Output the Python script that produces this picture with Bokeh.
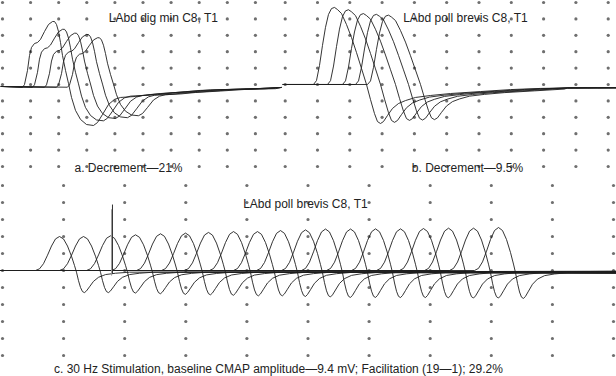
import numpy as np
from bokeh.plotting import figure
from bokeh.layouts import column, row
from bokeh.models import Label, Range1d
from bokeh.embed import file_html
from bokeh.resources import INLINE

# ---------------- texts ----------------
TL_TITLE = "LAbd dig min C8, T1"
TL_CAPTION = "a. Decrement\u201421%"
TR_TITLE = "LAbd poll brevis C8, T1"
TR_CAPTION = "b. Decrement\u20149.5%"
BT_TITLE = "LAbd poll brevis C8, T1"
BT_CAPTION = "c. 30 Hz Stimulation, baseline CMAP amplitude\u20149.4 mV; Facilitation (19\u20141); 29.2%"

# ---------------- panel a (grid divisions) ----------------
TL_DOT_COLS = [0, 1, 2, 3, 4, 5, 6, 7, 8, 9]
TL_DOT_ROWS = [-5, -4, -3, -2, -1, 0, 1, 2, 3, 4, 5]
TL_BASE = -0.12
# first response, relative to its peak (x) and baseline (y)
TL_TPL_X = [-1.103, -1.032, -0.925, -0.854, -0.783, -0.676, -0.569, -0.463, -0.320, -0.178,
            -0.036, 0.036, 0.107, 0.178, 0.249, 0.320, 0.427, 0.534, 0.641, 0.783,
            0.961, 1.174, 1.423, 1.566, 1.744, 1.957, 2.171, 2.384, 2.918, 3.452,
            4.342, 5.231, 6.299, 7.367]
TL_TPL_Y = [-0.06, 0.12, 0.98, 1.89, 2.38, 2.62, 2.68, 2.87, 3.35, 3.78,
            3.96, 3.96, 3.78, 3.35, 2.68, 1.89, 0.98, 0.18, -0.67, -1.46,
            -2.01, -2.32, -2.38, -2.20, -1.71, -1.10, -0.79, -0.67, -0.61, -0.49,
            -0.37, -0.24, -0.18, -0.12]
TL_PEAK_X = [1.815, 2.171, 2.598, 3.025, 3.416]
TL_AMP = [1.00, 0.88, 0.82, 0.80, 0.75]
TL_END_X = [9.93]
TL_END_Y = [-0.06]

# ---------------- panel b ----------------
TR_DOT_COLS = [-1, 0, 1, 2, 3, 4, 5, 6, 7, 8, 9]
TR_DOT_ROWS = [-5, -4, -3, -2, -1, 0, 1, 2, 3, 4, 5]
TR_TPL_X = [-0.619, -0.526, -0.433, -0.341, -0.248, -0.155, -0.062, 0.031, 0.124, 0.248,
            0.402, 0.557, 0.712, 0.867, 1.022, 1.146, 1.269, 1.362, 1.455, 1.548,
            1.672, 1.827, 2.012, 2.229, 2.539, 3.003, 3.622, 4.551, 5.480, 6.409]
TR_TPL_Y = [0.0, 0.24, 1.16, 2.38, 3.48, 4.27, 4.63, 4.70, 4.57, 4.33,
            3.66, 2.87, 1.95, 0.98, 0.0, -0.92, -1.77, -2.26, -2.38, -2.26,
            -1.89, -1.46, -1.16, -0.98, -0.79, -0.67, -0.55, -0.43, -0.31, -0.24]
TR_PEAK_X = [0.495, 0.929, 1.393, 1.796, 2.167]
TR_AMP = [1.00, 0.97, 0.92, 0.91, 0.90]
TR_END_X = [7.74, 9.26]
TR_END_Y = [-0.21, -0.20]

# ---------------- panel c ----------------
BT_DOT_COLS = [0, 1, 2, 3, 4, 5, 6, 7, 8, 9, 10]
BT_DOT_ROWS = [-5, -4, -3, -2, -1, 0, 1, 2, 3, 4, 5]
BT_TPL_X = [-0.393, -0.327, -0.262, -0.196, -0.131, -0.065, 0.0, 0.065, 0.131, 0.196,
            0.245, 0.278, 0.311, 0.344, 0.376, 0.409, 0.442, 0.491, 0.556, 0.638,
            0.753, 0.917, 1.146]
BT_TPL_Y = [0.0, 0.05, 0.20, 0.45, 0.72, 0.93, 1.0, 0.93, 0.72, 0.42,
            0.15, -0.05, -0.30, -0.50, -0.62, -0.65, -0.60, -0.48, -0.32, -0.20,
            -0.12, -0.08, -0.05]
BT_PEAK_X = [0.933, 1.326, 1.768, 2.177, 2.586, 2.995, 3.371, 3.781, 4.173, 4.550,
             4.959, 5.286, 5.696, 6.105, 6.514, 6.890, 7.300, 7.709, 8.118]
BT_AMP = [2.00, 2.00, 2.04, 2.10, 2.16, 2.20, 2.24, 2.29, 2.29, 2.35,
          2.39, 2.44, 2.44, 2.45, 2.45, 2.47, 2.49, 2.49, 2.53]
BT_TAIL = [-0.06, -0.10, -0.04, -0.12, -0.08, -0.14, -0.06, -0.10, -0.16, -0.08,
           -0.12, -0.05, -0.14, -0.10, -0.07, -0.15, -0.12, -0.09, -0.13]
BT_END_X = 10.05
ART_X = [1.785, 1.80]
ART_Y0 = [-0.30, -0.20]
ART_Y1 = [3.60, 3.88]
ART_COLOR = ["#9a9a9a", "#333333"]

FONT = "Liberation Sans"
TXT = "#222222"
DOT = "#6f6f6f"
LINE = "#1e1e1e"


def make_fig(w, h, xr, yr):
    p = figure(width=w, height=h, x_range=Range1d(*xr), y_range=Range1d(*yr),
               output_backend="svg", toolbar_location=None, min_border=0,
               x_axis_location=None, y_axis_location=None)
    p.grid.visible = False
    p.outline_line_color = None
    p.background_fill_color = "white"
    p.border_fill_color = "white"
    return p


def dots(p, cols, rows):
    gx, gy = np.meshgrid(cols, rows)
    p.scatter(gx.ravel(), gy.ravel(), size=3.2, color=DOT, line_color=None)


def build(tx, ty, peak, amp, left, end_x, end_y, base=0.0):
    xs, ys = [left], [base]
    for a, b in zip(tx, ty):
        x = peak + a
        if x <= left or x >= end_x[0]:
            continue
        xs.append(x)
        ys.append(base + amp * b)
    xs += list(end_x)
    ys += [base + e for e in end_y]
    return xs, ys


def label(p, x, y, text):
    p.add_layout(Label(x=x, y=y, x_units="screen", y_units="screen", text=text,
                       text_align="center", text_baseline="alphabetic",
                       text_font=FONT, text_font_size="12px", text_color=TXT))


# panel a
p1 = make_fig(282, 180, (-0.0712, 9.964), (-5.854, 5.122))
dots(p1, TL_DOT_COLS, TL_DOT_ROWS)
xs_all, ys_all = [], []
for pk, am in zip(TL_PEAK_X, TL_AMP):
    xs, ys = build(TL_TPL_X, TL_TPL_Y, pk, am, -0.0712, TL_END_X, TL_END_Y, TL_BASE)
    xs_all.append(xs); ys_all.append(ys)
p1.multi_line(xs_all, ys_all, line_color=LINE, line_width=0.9)
label(p1, 163, 163, TL_TITLE)
label(p1, 128, 13, TL_CAPTION)

# panel b
p2 = make_fig(334, 180, (-1.0836, 9.257), (-5.854, 5.122))
dots(p2, TR_DOT_COLS, TR_DOT_ROWS)
xs_all, ys_all = [], []
for pk, am in zip(TR_PEAK_X, TR_AMP):
    xs, ys = build(TR_TPL_X, TR_TPL_Y, pk, am, -1.0836, TR_END_X, TR_END_Y)
    xs_all.append(xs); ys_all.append(ys)
p2.multi_line(xs_all, ys_all, line_color=LINE, line_width=0.9)
label(p2, 183, 163, TR_TITLE)
label(p2, 185, 13, TR_CAPTION)

# panel c
p3 = make_fig(616, 196, (-0.0327, 10.049), (-6.235, 5.294))
dots(p3, BT_DOT_COLS, BT_DOT_ROWS)
xs_all, ys_all = [], []
for pk, am, tl in zip(BT_PEAK_X, BT_AMP, BT_TAIL):
    xs, ys = build(BT_TPL_X, BT_TPL_Y, pk, am, -0.0327, [BT_END_X], [tl])
    xs_all.append(xs); ys_all.append(ys)
p3.multi_line(xs_all, ys_all, line_color=LINE, line_width=0.9)
p3.segment(x0=ART_X, y0=ART_Y0, x1=ART_X, y1=ART_Y1, line_color=ART_COLOR, line_width=1)
label(p3, 305, 173, BT_TITLE)
label(p3, 278, 8, BT_CAPTION)

layout = column(row(p1, p2, spacing=0), p3, spacing=0)
html = file_html(layout, INLINE)
html = html.replace("<head>", "<head><style>html,body{margin:0;padding:0;overflow:hidden;}</style>", 1)
open("out.html", "w").write(html)
